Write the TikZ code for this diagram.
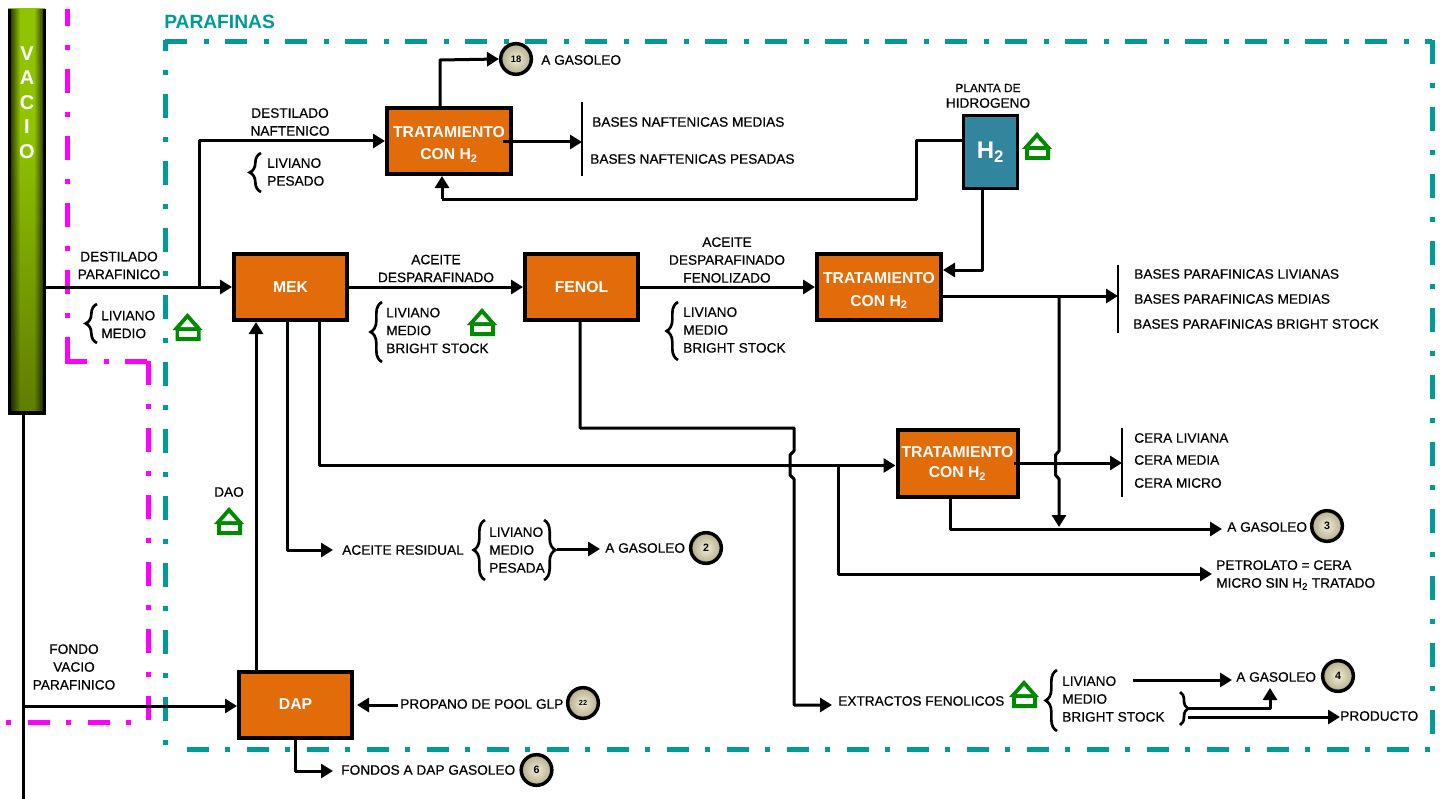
\documentclass[tikz,border=0pt]{standalone}
\usepackage{fontspec}
\setmainfont{Liberation Sans}
\newfontfamily\lab[FakeBold=0.5]{Liberation Sans}
\usetikzlibrary{arrows.meta,decorations.pathreplacing,fadings,calc}
\definecolor{teal1}{HTML}{009B96}
\definecolor{magenta1}{HTML}{FF00FF}
\definecolor{orange1}{HTML}{E36C0A}
\definecolor{blue1}{HTML}{31859C}
\definecolor{green1}{HTML}{008A00}
\definecolor{colA}{HTML}{3F5200}
\definecolor{colM}{HTML}{668700}
\definecolor{colB}{HTML}{90C400}
\definecolor{colC}{HTML}{7FAA00}
\definecolor{ballA}{HTML}{EFEBD6}
\definecolor{ballB}{HTML}{B5AE8C}
\pgfdeclareverticalshading{colv}{100bp}{color(0bp)=(colA);color(30bp)=(colM);color(60bp)=(colB);color(85bp)=(colB);color(100bp)=(colC)}
\tikzfading[name=fadeL,left color=transparent!35,right color=transparent!100]
\tikzfading[name=fadeR,left color=transparent!100,right color=transparent!35]
\tikzset{
  x=0.75pt,y=-0.75pt,
  wire/.style={line width=2.25pt,line join=round,draw=black},
  arr/.style={wire,-{Triangle[length=9pt,width=10.5pt]}},
  thinbar/.style={line width=2.1pt,draw=black},
  lbl/.style={font=\lab\fontsize{10.25}{13.4}\selectfont,inner sep=0pt,align=left,anchor=west,text=black},
  clbl/.style={lbl,align=center,anchor=center},
  unit/.style={draw=black,line width=3pt,fill=orange1,font=\bfseries\fontsize{11.8}{17}\selectfont,text=white,align=center,inner sep=0pt},
  ball/.style={circle,draw=black,line width=2.6pt,inner sep=0pt,minimum size=23pt,inner color=ballA,outer color=ballB,font=\bfseries\fontsize{7}{8}\selectfont},
  lbrace/.style={decorate,decoration={brace,amplitude=8.5pt},line width=2pt,draw=black},
  sbrace/.style={decorate,decoration={brace,amplitude=6pt},line width=2pt,draw=black},
  tealdash/.style={draw=teal1,line width=3.75pt},
  magdash/.style={draw=magenta1,line width=3.75pt},
  hv/.style={dash pattern=on 16.5pt off 12.75pt on 3.75pt off 12pt},
  vv/.style={dash pattern=on 18pt off 14.25pt on 3.75pt off 14.25pt},
  house/.pic={
    \fill[green1] (0,0) -- (15,17) -- (13,17) -- (13,28) -- (-12,28) -- (-12,17) -- (-15,17) -- cycle;
    \fill[white] (0,6) -- (7,14) -- (-7,14) -- cycle;
    \fill[white] (-8.5,18) rectangle (9,24);
  }
}
\begin{document}
\begin{tikzpicture}
\useasboundingbox (0,0) rectangle (1440,799);
\fill[white] (0,0) rectangle (1440,799);

% dash-dot frames
\draw[magdash,vv,dash phase=5.25pt] (67,9) -- (67,361);
\draw[magdash,hv] (65,361) -- (148,361);
\draw[magdash,vv] (148,361) -- (148,722);
\draw[magdash,hv,dash phase=16.5pt] (148,722) -- (5,722);
\draw[tealdash,hv] (165,42) -- (1432,42);
\draw[tealdash,vv] (1432,40) -- (1432,749);
\draw[tealdash,hv,dash phase=27.75pt] (1432,749) -- (180,749);
\draw[tealdash,vv,dash phase=9.75pt] (165,40) -- (165,747);

% column
\node[shade,shading=colv,minimum width=27.75pt,minimum height=303pt,anchor=north west,inner sep=0pt,outer sep=0pt] (col) at (8,9) {};
\fill[black,path fading=fadeL] (11,9) rectangle (20,413);
\fill[black,path fading=fadeR] (34,9) rectangle (43,413);
\draw[black,line width=2.6pt] (9.5,9) -- (9.5,413) -- (44.5,413) -- (44.5,9);
\node[font=\bfseries\fontsize{15}{18.4}\selectfont,text=white,align=center,inner sep=0pt,anchor=north] (vacio) at (27,46) {V\\A\\C\\I\\O};
\coordinate (colbase) at (23,413);
\coordinate (colfoot) at (23,799);

% process units
\node[unit,minimum width=84.75pt,minimum height=49.5pt] (mek) at (290.5,287) {MEK};
\node[unit,minimum width=84.75pt,minimum height=49.5pt] (fenol) at (581.5,287) {FENOL};
\node[unit,minimum width=84.75pt,minimum height=49.5pt] (dap) at (295.5,704.5) {DAP};
\node[unit,minimum width=93pt,minimum height=49.5pt] (t1) at (449,141) {\rule{0pt}{13pt}TRATAMIENTO\\CON H\textsubscript{2}};
\node[unit,minimum width=93pt,minimum height=49.5pt] (t2) at (879,287) {\rule{0pt}{14pt}TRATAMIENTO\\CON H\textsubscript{2}};
\node[unit,minimum width=90pt,minimum height=50pt,font=\bfseries\fontsize{11.8}{15}\selectfont] (t3) at (957.5,463.5) {TRATAMIENTO\\CON H\textsubscript{2}};
\node[draw=black,line width=2.4pt,fill=blue1,minimum width=41pt,minimum height=55pt,text=white,font=\bfseries\fontsize{18}{20}\selectfont,inner sep=0pt] (h2) at (990.5,152) {H\textsubscript{2}};

% balls
\node[ball] (b18) at (516,59) {18};
\node[ball] (b2) at (706,548) {\fontsize{8}{8}\selectfont 2};
\node[ball] (b3) at (1327,526) {\fontsize{8}{8}\selectfont 3};
\node[ball] (b4) at (1338,676) {\fontsize{8}{8}\selectfont 4};
\node[ball,font=\bfseries\fontsize{5.5}{6}\selectfont] (b22) at (583,703) {22};
\node[ball] (b6) at (536.5,770) {\fontsize{8}{8}\selectfont 6};

% labels
\node[font=\bfseries\fontsize{14.4}{15}\selectfont,text=teal1,inner sep=0pt,anchor=west] (par) at (164,22) {PARAFINAS};
\node[clbl] (tdn) at (290,122) {DESTILADO\\NAFTENICO};
\node[lbl] (tlp) at (267,172) {LIVIANO\\PESADO};
\node[clbl] (tdp) at (119,265.5) {DESTILADO\\PARAFINICO};
\node[lbl] (tlm) at (101,324.5) {LIVIANO\\MEDIO};
\node[clbl] (tad) at (436,268.5) {ACEITE\\DESPARAFINADO};
\node[lbl] (tl1) at (386,330.5) {LIVIANO\\MEDIO\\BRIGHT STOCK};
\node[clbl] (taf) at (727,260) {ACEITE\\DESPARAFINADO\\FENOLIZADO};
\node[lbl] (tl2) at (683,330) {LIVIANO\\MEDIO\\BRIGHT STOCK};
\node[lbl] (bn1) at (592,122) {BASES NAFTENICAS MEDIAS};
\node[lbl] (bn2) at (590,159) {BASES NAFTENICAS PESADAS};
\node[lbl] (bp1) at (1134,274) {BASES PARAFINICAS LIVIANAS};
\node[lbl] (bp2) at (1134,299) {BASES PARAFINICAS MEDIAS};
\node[lbl] (bp3) at (1133,324) {BASES PARAFINICAS BRIGHT STOCK};
\node[lbl] (c1) at (1134,438) {CERA LIVIANA};
\node[lbl] (c2) at (1134,460) {CERA MEDIA};
\node[lbl] (c3) at (1134,483) {CERA MICRO};
\node[lbl] (g18) at (541,60) {A GASOLEO};
\node[clbl,font=\lab\fontsize{8.9}{9}\selectfont] (tpl) at (988,88) {PLANTA DE};
\node[clbl] (thi) at (988,103) {HIDROGENO};
\node[clbl] (dao) at (229,492) {DAO};
\node[lbl] (res) at (342,550) {ACEITE RESIDUAL};
\node[lbl] (tl3) at (489,550) {LIVIANO\\MEDIO\\PESADA};
\node[lbl] (g2) at (605,548) {A GASOLEO};
\node[lbl] (g3) at (1227,527) {A GASOLEO};
\node[lbl] (pet) at (1216,575) {PETROLATO = CERA\\MICRO SIN H\textsubscript{2} TRATADO};
\node[lbl] (ext) at (838,701) {EXTRACTOS FENOLICOS};
\node[lbl] (tl4) at (1062,699) {LIVIANO\\MEDIO\\BRIGHT STOCK};
\node[lbl] (g4) at (1236,677) {A GASOLEO};
\node[lbl] (prod) at (1340,716) {PRODUCTO};
\node[clbl] (tfv) at (74,667) {FONDO\\VACIO\\PARAFINICO};
\node[lbl] (pro) at (400,704) {PROPANO DE POOL GLP};
\node[lbl] (fon) at (341,770) {FONDOS A DAP GASOLEO};

% houses
\pic at (187.5,313) {house};
\pic at (229,507) {house};
\pic at (482,308) {house};
\pic at (1037,132) {house};
\pic at (1024,680) {house};

% braces
\draw[lbrace] (261,192) -- (261,153);
\draw[lbrace] (97,343) -- (97,304);
\draw[lbrace] (382,362) -- (382,302);
\draw[lbrace] (678,360) -- (678,302);
\draw[lbrace] (1057,731) -- (1057,670);
\draw[lbrace] (485,580) -- (485,520);
\draw[lbrace] (544,520) -- (544,580);
\draw[sbrace] (1180,692) -- (1180,725);

% receiving bars
\coordinate (bar1a) at (582,102); \coordinate (bar1b) at (582,176);
\coordinate (bar2a) at (1118,265); \coordinate (bar2b) at (1118,333);
\coordinate (bar3a) at (1122,428); \coordinate (bar3b) at (1122,497);
\draw[thinbar] (bar1a) -- (bar1b);
\draw[thinbar] (bar2a) -- (bar2b);
\draw[thinbar] (bar3a) -- (bar3b);

% connectors
\coordinate (j1) at (199,287);
\draw[arr] (col.east |- mek.west) -- (mek.west);
\draw[arr] (j1) |- (t1.west);
\draw[arr] (t1.north -| 440,0) -- (440,60) -- (b18.west);
\coordinate (t1out) at (503,142);
\draw[arr] (t1out) -- (t1out -| bar1a);
\draw[wire] (h2.west |- 0,141) -- (916,141) -- (916,199) -- (442,199);
\draw[arr] (442,199) -- (t1.south -| 442,0);
\draw[arr] (h2.south -| 982,0) -- (982,270) -- (t2.east |- 0,270);
\draw[arr] (mek.east) -- (fenol.west);
\draw[arr] (fenol.east) -- (t2.west);
\draw[arr] (t2.east |- 0,296) -- (bar2a |- 0,296);
\coordinate (j2) at (1059,296);
\draw[arr] (j2) -- (1059,451) -- (1055.5,455) -- (1055.5,475) -- (1059,479) -- (1059,527);
\coordinate (t3out) at (1014,463);
\draw[arr] (t3out) -- (t3out -| bar3a);
\coordinate (g3in) at (1222,529);
\draw[arr] (t3.south -| 950,0) -- (950,529) -- (g3in);
\draw[arr] (mek.south -| 319,0) -- (319,465.5) -- (t3.west |- 0,465.5);
\coordinate (resin) at (333,550);
\draw[arr] (mek.south -| 287,0) -- (287,550) -- (resin);
\coordinate (extin) at (832,705);
\draw[arr] (fenol.south -| 580,0) -- (580,428) -- (794,428) -- (794,451) -- (790,455) -- (790,475) -- (794,479) -- (794,705) -- (extin);
\coordinate (j3) at (838,466);
\coordinate (petin) at (1212,574);
\draw[arr] (j3) -- (838,574) -- (petin);
\draw[arr] (dap.north -| 256,0) -- (mek.south -| 256,0);
\draw[line width=2.25pt] (colbase) -- (colfoot);
\coordinate (j4) at (23,706);
\draw[arr] (j4) -- (dap.west |- j4);
\coordinate (prostart) at (398,705);
\coordinate (proin) at (357,705);
\draw[arr] (prostart) -- (proin);
\coordinate (fonin) at (333,771);
\draw[arr] (dap.south -| 295,0) -- (295,771) -- (fonin);
\coordinate (bri) at (1133,680);
\coordinate (g4in) at (1232,680);
\draw[arr] (bri) -- (g4in);
\coordinate (brR) at (1188,708);
\draw[arr] (brR) -- (1270,708) -- (1270,688);
\coordinate (brS) at (1188,717);
\draw[arr] (brS) -- (prod.west |- brS);
\coordinate (resR) at (557,549);
\coordinate (g2in) at (600,549);
\draw[arr] (resR) -- (g2in);
\end{tikzpicture}
\end{document}
